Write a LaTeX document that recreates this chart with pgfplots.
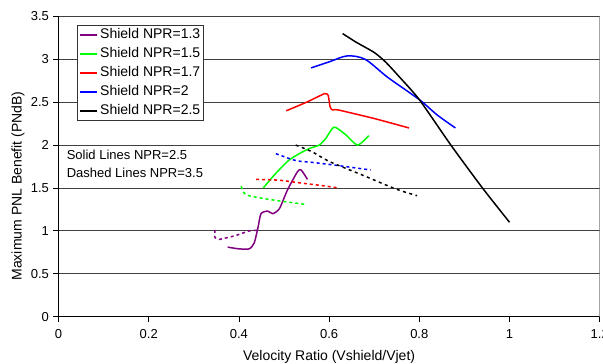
\documentclass[border=0pt]{standalone}
\usepackage{pgfplots}
\pgfplotsset{compat=1.18}
\usepackage{fontspec}
\setmainfont{Liberation Sans}
\definecolor{npra}{RGB}{128,0,128}
\definecolor{nprb}{RGB}{0,255,0}
\definecolor{nprc}{RGB}{255,0,0}
\definecolor{nprd}{RGB}{0,0,255}
\begin{document}
\begin{tikzpicture}
\begin{axis}[
  scale only axis, width=541pt, height=300pt,
  xmin=0, xmax=1.2, ymin=0, ymax=3.5,
  xtick={0,0.2,0.4,0.6,0.8,1,1.2},
  xticklabels={0,0.2,0.4,0.6,0.8,1,1.2},
  ytick={0,0.5,1,1.5,2,2.5,3,3.5},
  yticklabels={0,0.5,1,1.5,2,2.5,3,3.5},
  axis x line*=bottom, axis y line*=left,
  x axis line style={-, line width=1pt}, y axis line style={-, line width=1pt},
  tick align=outside, major tick length=5pt,
  tick style={black, line width=0.8pt},
  ymajorgrids, major grid style={black!75, line width=0.8pt},
  ticklabel style={font=\fontsize{13}{15}\selectfont},
  xticklabel style={yshift=-4pt},
  yticklabel style={xshift=-1pt},
  xlabel={Velocity Ratio (Vshield/Vjet)},
  ylabel={Maximum PNL Benefit (PNdB)},
  label style={font=\fontsize{14}{16}\selectfont},
  xlabel style={at={(axis cs:0.6,-0.475)}, anchor=center},
  ylabel style={at={(axis cs:-0.0898,1.524)}, anchor=center, rotate=0},
  legend cell align=left,
  legend style={at={(axis cs:0.0417,3.40)}, anchor=north west,
    draw=black!80, line width=0.8pt, fill=white, inner sep=1pt,
    font=\fontsize{14}{15}\selectfont,
    nodes={inner sep=2.5pt, text height=10pt, text depth=3pt},
    row sep=0.8pt},
  legend image code/.code={\draw[#1] (0pt,0pt) -- (17pt,0pt);},
  every axis plot/.append style={line width=1.5pt, line join=round},
]
\addlegendimage{color=npra, line width=2pt, solid}\addlegendentry{Shield NPR=1.3}
\addlegendimage{color=nprb, line width=2pt, solid}\addlegendentry{Shield NPR=1.5}
\addlegendimage{color=nprc, line width=2pt, solid}\addlegendentry{Shield NPR=1.7}
\addlegendimage{color=nprd, line width=2pt, solid}\addlegendentry{Shield NPR=2}
\addlegendimage{color=black, line width=2pt, solid}\addlegendentry{Shield NPR=2.5}
% solid lines (NPR=2.5)
\addplot[npra, forget plot, smooth, tension=0.4] coordinates {
 (0.375,0.81) (0.40,0.79) (0.423,0.79) (0.434,0.86) (0.442,1.03) (0.449,1.20)
 (0.464,1.23) (0.475,1.20) (0.49,1.26) (0.508,1.48) (0.53,1.69) (0.538,1.71) (0.552,1.60)};
\addplot[nprb, forget plot, smooth, tension=0.4] coordinates {
 (0.454,1.50) (0.48,1.66) (0.51,1.82) (0.534,1.90) (0.556,1.96) (0.578,2.00)
 (0.593,2.08) (0.611,2.21) (0.637,2.12) (0.663,2.00) (0.688,2.11)};
\addplot[nprc, forget plot, smooth, tension=0.3] coordinates {
 (0.505,2.40) (0.55,2.50) (0.59,2.60) (0.598,2.58) (0.602,2.45) (0.607,2.41)
 (0.62,2.41) (0.70,2.31) (0.777,2.20)};
\addplot[nprd, forget plot, smooth, tension=0.5] coordinates {
 (0.56,2.90) (0.60,2.97) (0.64,3.04) (0.68,3.00) (0.73,2.79) (0.80,2.53)
 (0.84,2.35) (0.88,2.20)};
\addplot[black, forget plot, smooth, tension=0.4] coordinates {
 (0.63,3.30) (0.66,3.20) (0.70,3.08) (0.725,2.97) (0.755,2.80) (0.80,2.53)
 (0.87,2.00) (0.94,1.50) (1.0,1.10)};
% dashed lines (NPR=3.5)
\addplot[npra, forget plot, dash pattern=on 3pt off 3pt] coordinates {
 (0.347,1.01) (0.347,0.92) (0.357,0.90) (0.39,0.94) (0.423,1.00) (0.445,1.01)};
\addplot[nprb, forget plot, smooth, tension=0.4, dash pattern=on 3pt off 3pt] coordinates {
 (0.405,1.52) (0.41,1.45) (0.416,1.42) (0.43,1.40) (0.475,1.36) (0.545,1.31)};
\addplot[nprc, forget plot, smooth, dash pattern=on 3pt off 3pt] coordinates {
 (0.438,1.60) (0.49,1.59) (0.534,1.56) (0.58,1.53) (0.622,1.50)};
\addplot[nprd, forget plot, smooth, dash pattern=on 3pt off 3pt] coordinates {
 (0.482,1.90) (0.526,1.82) (0.56,1.80) (0.607,1.77) (0.65,1.74) (0.692,1.71)};
\addplot[black, forget plot, smooth, dash pattern=on 3pt off 3.5pt] coordinates {
 (0.526,2.00) (0.563,1.92) (0.60,1.81) (0.674,1.65) (0.747,1.49) (0.795,1.41)};
\draw[black!55, line width=1pt] (axis cs:1.2,0) -- (axis cs:1.2,3.5);
\node[anchor=west, align=left, font=\fontsize{13}{18.3}\selectfont, inner sep=0pt]
  at (axis cs:0.018,1.78) {Solid Lines NPR=2.5\\Dashed Lines NPR=3.5};
\coordinate (bbsw) at (axis cs:-0.1297,-0.5515);
\coordinate (bbne) at (axis cs:1.2073,3.692);
\end{axis}
\pgfresetboundingbox
\path[use as bounding box] (bbsw) rectangle (bbne);
\end{tikzpicture}
\end{document}
